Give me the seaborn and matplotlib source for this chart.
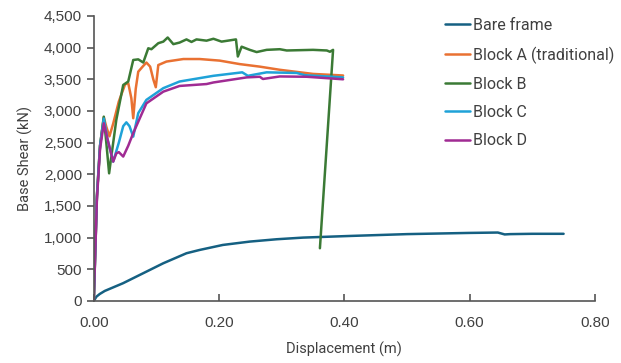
import numpy as np
import pandas as pd
import matplotlib
matplotlib.use("Agg")
import matplotlib.pyplot as plt
from matplotlib.ticker import FuncFormatter
import seaborn as sns

series_names = ["Bare frame", "Block A (traditional)", "Block B", "Block C", "Block D"]
colors = ["#156082", "#E97132", "#3B7A35", "#1FA2D8", "#A02B93"]

bare_x = [0.0, 0.0043, 0.0096, 0.0176, 0.0468, 0.0788, 0.111, 0.148, 0.169, 0.206, 0.249, 0.292, 0.334, 0.409, 0.50, 0.60, 0.645, 0.656, 0.665, 0.70, 0.75]
bare_y = [0, 68, 110, 158, 280, 437, 595, 753, 805, 884, 937, 974, 1000, 1026, 1055, 1074, 1080, 1050, 1055, 1060, 1060]

a_x = [0.0, 0.005, 0.010, 0.016, 0.020, 0.025, 0.031, 0.040, 0.050, 0.055, 0.060, 0.063, 0.067, 0.071, 0.078, 0.084, 0.090, 0.095, 0.099, 0.103, 0.116, 0.143, 0.169, 0.201, 0.233, 0.265, 0.297, 0.350, 0.398]
a_y = [0, 1650, 2450, 2900, 2750, 2600, 2800, 3150, 3420, 3440, 3200, 2885, 3350, 3620, 3700, 3765, 3700, 3500, 3375, 3725, 3780, 3820, 3820, 3795, 3740, 3700, 3650, 3585, 3560]

b_x = [0.0, 0.005, 0.010, 0.016, 0.020, 0.0245, 0.028, 0.036, 0.047, 0.055, 0.063, 0.071, 0.079, 0.087, 0.092, 0.103, 0.111, 0.118, 0.127, 0.137, 0.148, 0.156, 0.164, 0.180, 0.191, 0.204, 0.214, 0.227, 0.230, 0.236, 0.249, 0.260, 0.276, 0.297, 0.308, 0.350, 0.372, 0.377, 0.382, 0.361]
b_y = [0, 1650, 2450, 2910, 2500, 2015, 2280, 2860, 3410, 3465, 3805, 3815, 3765, 3990, 3975, 4070, 4095, 4160, 4055, 4080, 4130, 4090, 4130, 4110, 4140, 4095, 4110, 4130, 3860, 4015, 3965, 3930, 3965, 3975, 3955, 3965, 3955, 3935, 3965, 832]

c_x = [0.0, 0.005, 0.010, 0.016, 0.022, 0.031, 0.040, 0.047, 0.052, 0.057, 0.063, 0.071, 0.084, 0.111, 0.137, 0.191, 0.237, 0.246, 0.276, 0.324, 0.337, 0.398]
c_y = [0, 1650, 2450, 2880, 2550, 2200, 2500, 2760, 2820, 2760, 2595, 2965, 3175, 3360, 3465, 3555, 3610, 3555, 3610, 3600, 3565, 3530]

d_x = [0.0, 0.005, 0.010, 0.016, 0.022, 0.031, 0.036, 0.040, 0.047, 0.055, 0.063, 0.084, 0.111, 0.137, 0.180, 0.191, 0.244, 0.265, 0.270, 0.297, 0.340, 0.398]
d_y = [0, 1600, 2400, 2805, 2550, 2200, 2330, 2350, 2280, 2450, 2650, 3120, 3305, 3395, 3425, 3450, 3530, 3540, 3505, 3545, 3540, 3500]

xs = [bare_x, a_x, b_x, c_x, d_x]
ys = [bare_y, a_y, b_y, c_y, d_y]
frames = []
for name, x, y in zip(series_names, xs, ys):
    frames.append(pd.DataFrame({"Displacement": x, "Shear": y, "Series": name, "order": range(len(x))}))
df = pd.concat(frames, ignore_index=True)

sns.set_theme(style="white")
plt.rcParams["font.family"] = ["Roboto", "DejaVu Sans"]

fig = plt.figure(figsize=(6.21, 3.63), dpi=100)
ax = fig.add_axes([0.151, 0.171, 0.807, 0.785])

sns.lineplot(data=df, x="Displacement", y="Shear", hue="Series", hue_order=series_names,
             palette=colors, sort=False, estimator=None, linewidth=1.8, ax=ax, legend=True)

ax.set_xlim(0, 0.8)
ax.set_ylim(0, 4500)
ax.set_xticks([0, 0.2, 0.4, 0.6, 0.8])
ax.set_yticks(range(0, 4501, 500))
ax.xaxis.set_major_formatter(FuncFormatter(lambda v, p: f"{v:.2f}"))
ax.yaxis.set_major_formatter(FuncFormatter(lambda v, p: f"{v:,.0f}"))
for s in ["top", "right"]:
    ax.spines[s].set_visible(False)
for s in ["left", "bottom"]:
    ax.spines[s].set_color("#555555")
    ax.spines[s].set_linewidth(1.2)
ax.tick_params(axis="x", direction="in", length=5, width=1.2, color="#555555", labelsize=11, labelcolor="#404040", pad=11, bottom=True)
ax.tick_params(axis="y", direction="out", length=5, width=1.2, color="#555555", labelsize=11, labelcolor="#404040", left=True)
for lab in ax.get_xticklabels() + ax.get_yticklabels():
    lab.set_fontfamily(["Liberation Sans", "DejaVu Sans"])
ax.set_xlabel("Displacement (m)", fontsize=10.5, color="#404040", labelpad=8)
ax.set_ylabel("Base Shear (kN)", fontsize=10.5, color="#404040", labelpad=8)

ax.legend(title=None, loc="upper left", bbox_to_anchor=(0.693, 0.99), bbox_transform=fig.transFigure,
          frameon=False, fontsize=11.5, handlelength=1.6, handletextpad=0.15, labelspacing=0.83,
          labelcolor="#404040")
for line in ax.get_legend().get_lines():
    line.set_linewidth(1.8)

fig.savefig("out.png", dpi=100)
